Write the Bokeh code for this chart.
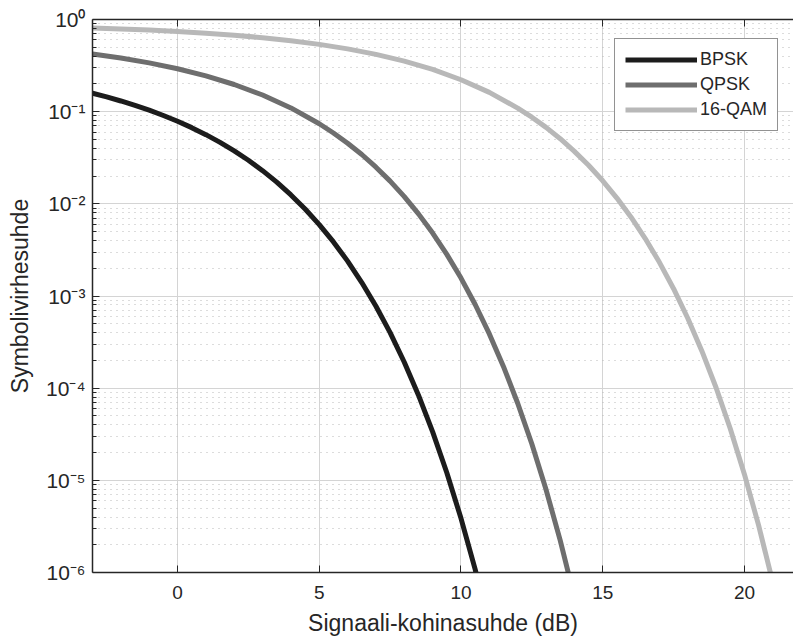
from bokeh.plotting import figure
from bokeh.models import LinearAxis, FixedTicker, CustomJSTickFormatter, Range1d
from bokeh.embed import file_html
from bokeh.resources import INLINE

# ---- data ----
bpsk_x = [-3, -2.5, -2, -1.5, -1, -0.5, 0, 0.5, 1, 1.5, 2, 2.5, 3, 3.5, 4, 4.5, 5,
          5.5, 6, 6.5, 7, 7.5, 8, 8.5, 9, 9.5, 10, 10.5, 11]
bpsk_y = [0.1584, 0.1445, 0.1306, 0.1170, 0.1038, 0.0909, 0.0786, 0.0671, 0.0563,
          0.0464, 0.0375, 0.0297, 0.0229, 0.0172, 0.0125, 0.00879, 0.00595, 0.00386,
          0.00239, 0.00140, 0.000773, 0.000401, 0.000191, 0.000084, 0.0000336,
          0.0000121, 0.00000387, 0.00000108, 0.00000026]

qpsk_x = [-3, -2, -1, 0, 1, 2, 3, 4, 5, 5.5, 6, 6.5, 7, 7.5, 8, 8.5, 9, 9.5, 10,
          10.5, 11, 11.5, 12, 12.5, 13, 13.5, 14]
qpsk_y = [0.4216, 0.3814, 0.3381, 0.2922, 0.2447, 0.1972, 0.1516, 0.1098, 0.0740,
          0.0587, 0.0455, 0.0343, 0.0250, 0.01764, 0.01196, 0.00778, 0.00482, 0.00283,
          0.001565, 0.000808, 0.000388, 0.000171, 0.0000686, 0.0000248, 0.00000794,
          0.00000223, 0.00000054]

qam_x = [-3, -2, -1, 0, 1, 2, 3, 4, 5, 6, 7, 8, 9, 10, 11, 12, 12.5, 13, 13.5, 14,
         14.5, 15, 15.5, 16, 16.5, 17, 17.5, 18, 18.5, 19, 19.5, 20, 20.5, 21]
qam_y = [0.8097, 0.7901, 0.7673, 0.7410, 0.7103, 0.6751, 0.6348, 0.5889, 0.5373,
         0.4804, 0.4187, 0.3534, 0.2872, 0.2219, 0.1619, 0.1093, 0.0871, 0.0675,
         0.0509, 0.0371, 0.0262, 0.01778, 0.01155, 0.00716, 0.0042, 0.00232, 0.0012,
         0.000573, 0.000252, 0.000101, 0.0000363, 0.0000116, 0.00000324, 0.00000078]

series_names = ["BPSK", "QPSK", "16-QAM"]
x_ticks = [0, 5, 10, 15, 20]
y_ticks = [1e-6, 1e-5, 1e-4, 1e-3, 1e-2, 1e-1, 1]
y_minor = [k * d for d in [1e-6, 1e-5, 1e-4, 1e-3, 1e-2, 1e-1] for k in range(2, 10)]

FONT = "Liberation Sans"
INK = "#262626"

p = figure(width=793, height=644, y_axis_type="log",
           x_range=Range1d(-3, 21.73), y_range=Range1d(1e-6, 1),
           output_backend="svg", toolbar_location=None,
           min_border_left=92, min_border_right=0, min_border_top=19,
           min_border_bottom=72)
p.outline_line_color = None
p.background_fill_color = "white"
p.border_fill_color = "white"

colors = ["#1c1c1c", "#6e6e6e", "#b8b8b8"]
for xs, ys, name, c in zip([bpsk_x, qpsk_x, qam_x], [bpsk_y, qpsk_y, qam_y],
                           series_names, colors):
    p.line(xs, ys, line_color=c, line_width=5, line_join="round",
           legend_label=name)

# grids
p.xgrid.ticker = FixedTicker(ticks=x_ticks)
p.xgrid.grid_line_color = "#d4d4d4"
p.xgrid.grid_line_width = 1
p.ygrid.grid_line_color = "#d4d4d4"
p.ygrid.grid_line_width = 1
p.ygrid.minor_grid_line_color = "#b8b8b8"
p.ygrid.minor_grid_line_dash = "1 5"
p.ygrid.minor_grid_line_width = 1

# x axis
xa = p.xaxis[0]
xa.ticker = FixedTicker(ticks=x_ticks)
xa.major_tick_in = 7
xa.major_tick_out = 0
xa.minor_tick_in = 0
xa.minor_tick_out = 0
xa.axis_line_color = INK
xa.axis_line_width = 1.5
xa.major_tick_line_color = INK
xa.major_label_text_font = FONT
xa.major_label_text_font_size = "19px"
xa.major_label_text_color = INK
xa.major_label_standoff = 13
xa.axis_label = "Signaali-kohinasuhde (dB)"
xa.axis_label_text_font = FONT
xa.axis_label_text_font_size = "23px"
xa.axis_label_text_font_style = "normal"
xa.axis_label_text_color = INK
xa.axis_label_standoff = 8

# y axis
ya = p.yaxis[0]
ya.ticker = FixedTicker(ticks=y_ticks, minor_ticks=y_minor)
ya.formatter = CustomJSTickFormatter(code="""
const sup = {'-':'\u207b','0':'\u2070','1':'\u00b9','2':'\u00b2','3':'\u00b3',
             '4':'\u2074','5':'\u2075','6':'\u2076','7':'\u2077','8':'\u2078','9':'\u2079'};
const e = Math.round(Math.log10(tick));
return '10' + String(e).split('').map(c => sup[c]).join('');
""")
ya.major_tick_in = 7
ya.major_tick_out = 0
ya.minor_tick_in = 4
ya.minor_tick_out = 0
ya.axis_line_color = INK
ya.axis_line_width = 1.5
ya.major_tick_line_color = INK
ya.minor_tick_line_color = INK
ya.major_label_text_font = FONT
ya.major_label_text_font_size = "21px"
ya.major_label_text_color = INK
ya.major_label_standoff = 7
ya.axis_label = "Symbolivirhesuhde"
ya.axis_label_text_font = FONT
ya.axis_label_text_font_size = "23px"
ya.axis_label_text_font_style = "normal"
ya.axis_label_text_color = INK
ya.axis_label_standoff = 10

# top spine with inward ticks (no labels)
top = LinearAxis(ticker=FixedTicker(ticks=x_ticks), major_tick_in=7, major_tick_out=0,
                 minor_tick_in=0, minor_tick_out=0,
                 formatter=CustomJSTickFormatter(code="return '';"),
                 major_label_standoff=0, axis_line_color=INK, axis_line_width=1.5,
                 major_tick_line_color=INK)
p.add_layout(top, "above")

# legend
lg = p.legend[0]
lg.location = (522, 441)
lg.label_text_font = FONT
lg.label_text_font_size = "18px"
lg.label_text_color = INK
lg.glyph_width = 72
lg.glyph_height = 21
lg.label_height = 21
lg.label_standoff = 3
lg.spacing = 4
lg.padding = 10
lg.margin = 0
lg.border_line_color = INK
lg.border_line_width = 1
lg.background_fill_color = "white"
lg.background_fill_alpha = 1

open("out.html", "w").write(file_html(p, INLINE))
